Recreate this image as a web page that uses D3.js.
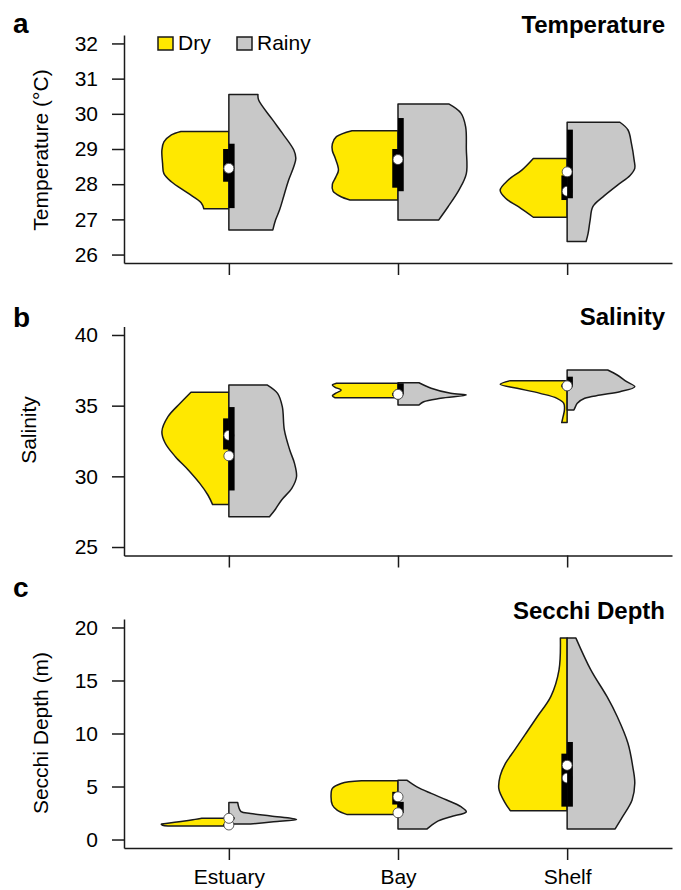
<!DOCTYPE html>
<html>
<head>
<meta charset="utf-8">
<script src="https://cdn.jsdelivr.net/npm/d3@7"></script>
<style>
  body { margin: 0; background: #fff; }
  text { font-family: "Liberation Sans", Arial, Helvetica, sans-serif; fill: #000; }
</style>
</head>
<body>
<svg id="fig" width="681" height="890"></svg>
<script>
const sites = ["Estuary", "Bay", "Shelf"];
const seasons = ["Dry", "Rainy"];
const seasonColors = ["#ffe800", "#c8c8c8"];

const tempTicks = [26, 27, 28, 29, 30, 31, 32];
const salTicks = [25, 30, 35, 40];
const secchiTicks = [0, 5, 10, 15, 20];

// violin outlines per site: [value, relative half-width], from top to bottom
const tempDry = [
  [[29.5, 0.71], [29.4, 0.85], [29.2, 0.96], [28.97, 0.99], [28.6, 0.98], [28.3, 0.96], [28.07, 0.85], [27.75, 0.61], [27.47, 0.41], [27.3, 0.37]],
  [[29.52, 0.68], [29.35, 0.91], [29.15, 0.97], [28.95, 0.97], [28.75, 0.93], [28.4, 0.88], [28.2, 0.92], [28.0, 0.97], [27.8, 0.96], [27.65, 0.85], [27.55, 0.71]],
  [[28.73, 0.5], [28.4, 0.67], [28.12, 0.87], [27.83, 0.99], [27.6, 0.91], [27.36, 0.72], [27.06, 0.5]]
];
const tempRainy = [
  [[30.55, 0.43], [30.39, 0.44], [29.82, 0.65], [29.45, 0.79], [28.97, 0.96], [28.74, 0.99], [28.5, 0.96], [28.1, 0.88], [27.65, 0.81], [27.27, 0.75], [26.98, 0.69], [26.7, 0.65]],
  [[30.28, 0.75], [30.02, 0.93], [29.63, 1.0], [29.0, 1.01], [28.3, 1.01], [27.83, 0.9], [27.36, 0.74], [26.98, 0.6]],
  [[29.76, 0.78], [29.54, 0.9], [29.16, 0.95], [28.69, 0.99], [28.45, 1.0], [28.25, 0.93], [27.98, 0.75], [27.64, 0.53], [27.36, 0.38], [26.98, 0.34], [26.6, 0.31], [26.37, 0.28]]
];
const salDry = [
  [[35.95, 0.56], [35.17, 0.72], [34.22, 0.9], [33.16, 0.99], [32.34, 0.94], [31.39, 0.79], [30.45, 0.6], [29.5, 0.43], [28.68, 0.31], [28.0, 0.24]],
  [[36.58, 0.91], [36.45, 0.97], [36.3, 0.93], [36.1, 0.84], [35.9, 0.91], [35.7, 0.97], [35.56, 0.93]],
  [[36.77, 0.84], [36.51, 0.99], [36.23, 0.74], [35.87, 0.4], [35.52, 0.15], [35.17, 0.05], [34.69, 0.04], [34.22, 0.06], [33.8, 0.08]]
];
const salRainy = [
  [[36.46, 0.57], [35.87, 0.72], [34.93, 0.79], [33.28, 0.82], [31.86, 0.9], [30.92, 0.97], [29.97, 1.0], [29.15, 0.93], [28.33, 0.78], [27.62, 0.68], [27.14, 0.6]],
  [[36.62, 0.31], [36.23, 0.49], [35.87, 0.78], [35.75, 1.01], [35.52, 0.63], [35.28, 0.38], [35.05, 0.31]],
  [[37.52, 0.6], [37.17, 0.74], [36.7, 0.88], [36.34, 1.0], [35.99, 0.78], [35.75, 0.49], [35.52, 0.26], [35.17, 0.15], [34.9, 0.12], [34.69, 0.1]]
];
const secchiDry = [
  [[2.0, 0.4], [1.9, 0.5], [1.8, 0.6], [1.62, 0.8], [1.5, 0.93], [1.44, 1.0], [1.35, 0.98], [1.27, 0.9]],
  [[5.54, 0.54], [5.29, 0.84], [4.82, 0.97], [4.04, 0.99], [3.26, 0.97], [2.78, 0.9], [2.35, 0.75]],
  [[19.0, 0.1], [16.0, 0.12], [13.5, 0.24], [11.6, 0.44], [10.0, 0.61], [8.5, 0.77], [7.2, 0.91], [6.0, 0.99], [4.8, 1.01], [3.6, 0.93], [2.72, 0.84]]
];
const secchiRainy = [
  [[3.5, 0.13], [2.63, 0.18], [2.46, 0.32], [2.22, 0.62], [1.9, 1.0], [1.68, 0.66], [1.46, 0.32]],
  [[5.6, 0.13], [4.97, 0.28], [4.35, 0.49], [3.73, 0.72], [3.1, 0.93], [2.62, 1.01], [2.15, 0.78], [1.67, 0.57], [1.0, 0.43]],
  [[19.0, 0.13], [16.0, 0.35], [13.47, 0.59], [11.6, 0.74], [9.06, 0.9], [6.87, 0.97], [5.3, 1.0], [3.73, 0.96], [2.15, 0.82], [1.0, 0.71]]
];

// boxes per site: [q1, q3, median]
const tempDryBox = [[28.07, 29.0, 28.45], [27.9, 29.0, 28.7], [27.55, 28.25, 27.8]];
const tempRainyBox = [[27.32, 29.15, 28.45], [27.8, 29.88, 28.7], [27.6, 29.55, 28.35]];
const salDryBox = [[31.9, 34.1, 32.9], [35.7, 35.9, 35.8], [36.3, 36.5, 36.4]];
const salRainyBox = [[29.0, 34.9, 31.45], [35.8, 36.58, 35.8], [36.35, 37.05, 36.4]];
const secchiDryBox = [[1.3, 1.45, 1.37], [3.3, 4.5, 4.03], [3.1, 8.1, 5.8]];
const secchiRainyBox = [[1.9, 2.1, 2.0], [2.5, 3.55, 2.52], [3.1, 9.2, 7.0]];

const HALF = 0.4;   // max half width of a violin, x units
const BOXW = 0.034; // width of a half box, x units
const INK = "#1a1a1a";

const svg = d3.select("#fig");
const x = d3.scaleLinear().domain([0.38, 3.62]).range([124, 672]);

const panels = [
  { letter: "a", title: "Temperature", ylab: "Temperature (\u00B0C)", ticks: tempTicks,
    domain: [25.76, 32.24], top: 35, bottom: 263, dry: tempDry, rainy: tempRainy,
    dryBox: tempDryBox, rainyBox: tempRainyBox, letterY: 33, titleY: 33, ylabX: 48, ylabY: 150, legend: true },
  { letter: "b", title: "Salinity", ylab: "Salinity", ticks: salTicks,
    domain: [24.4, 40.6], top: 326.5, bottom: 555.5, dry: salDry, rainy: salRainy,
    dryBox: salDryBox, rainyBox: salRainyBox, letterY: 327, titleY: 325, ylabX: 36, ylabY: 430 },
  { letter: "c", title: "Secchi Depth", ylab: "Secchi Depth (m)", ticks: secchiTicks,
    domain: [-0.8, 20.8], top: 619, bottom: 848, dry: secchiDry, rainy: secchiRainy,
    dryBox: secchiDryBox, rainyBox: secchiRainyBox, letterY: 597, titleY: 619, ylabX: 48, ylabY: 733, xLabels: true }
];

panels.forEach(p => {
  const y = d3.scaleLinear().domain(p.domain).range([p.bottom, p.top]);
  const g = svg.append("g");

  sites.forEach((s, i) => {
    const c = i + 1;
    // half violins
    [p.dry, p.rainy].forEach((prof, k) => {
      const side = k === 0 ? -1 : 1;
      const pts = prof[i];
      const line = d3.line()
        .x(d => x(c + side * d[1] * HALF))
        .y(d => y(d[0]))
        .curve(d3.curveCatmullRom.alpha(0.5));
      const d = `M${x(c)},${y(pts[0][0])}L` + line(pts).slice(1) +
        `L${x(c)},${y(pts[pts.length - 1][0])}Z`;
      g.append("path")
        .attr("d", d)
        .attr("fill", seasonColors[k])
        .attr("stroke", INK)
        .attr("stroke-width", 1.5)
        .attr("stroke-linejoin", "round");
    });
    // half boxes + medians
    [p.dryBox, p.rainyBox].forEach((b, k) => {
      const [q1, q3, med] = b[i];
      g.append("rect")
        .attr("x", k === 0 ? x(c - BOXW) : x(c))
        .attr("width", x(c + BOXW) - x(c))
        .attr("y", y(q3))
        .attr("height", y(q1) - y(q3))
        .attr("fill", "#000");
      g.append("circle")
        .attr("cx", x(c))
        .attr("cy", y(med))
        .attr("r", 5)
        .attr("fill", "#fff")
        .attr("stroke", "#333")
        .attr("stroke-width", 0.8);
    });
  });

  // axes
  const ya = g.append("g")
    .attr("transform", `translate(${x.range()[0]},0)`)
    .call(d3.axisLeft(y).tickValues(p.ticks).tickFormat(d3.format("d"))
      .tickSize(12).tickSizeOuter(0).tickPadding(14));
  const xa = g.append("g")
    .attr("transform", `translate(0,${p.bottom})`)
    .call(d3.axisBottom(x).tickValues([1, 2, 3]).tickSize(12).tickSizeOuter(0).tickPadding(9)
      .tickFormat(p.xLabels ? (d => sites[d - 1]) : () => ""));
  [ya, xa].forEach(a => {
    a.selectAll("path, line").attr("stroke", INK).attr("stroke-width", 1.5);
    a.selectAll("text").attr("font-size", 21).attr("fill", "#000")
      .style("font-family", '"Liberation Sans", Arial, sans-serif');
  });

  // labels
  svg.append("text").attr("x", 13).attr("y", p.letterY)
    .attr("font-size", 28).attr("font-weight", "bold").text(p.letter);
  svg.append("text").attr("x", 665).attr("y", p.titleY).attr("text-anchor", "end")
    .attr("font-size", 24).attr("font-weight", "bold").text(p.title);
  svg.append("text")
    .attr("transform", `translate(${p.ylabX},${p.ylabY}) rotate(-90)`)
    .attr("text-anchor", "middle").attr("font-size", 21).text(p.ylab);

  if (p.legend) {
    const lg = svg.append("g").attr("transform", "translate(158,37)");
    const items = lg.selectAll("g").data(seasons).join("g")
      .attr("transform", (d, k) => `translate(${k * 79},0)`);
    items.append("rect").attr("width", 15).attr("height", 13)
      .attr("fill", (d, k) => seasonColors[k]).attr("stroke", INK).attr("stroke-width", 1.5);
    items.append("text").attr("x", 20).attr("y", 13).attr("font-size", 21).text(d => d);
  }
});
</script>
</body>
</html>
